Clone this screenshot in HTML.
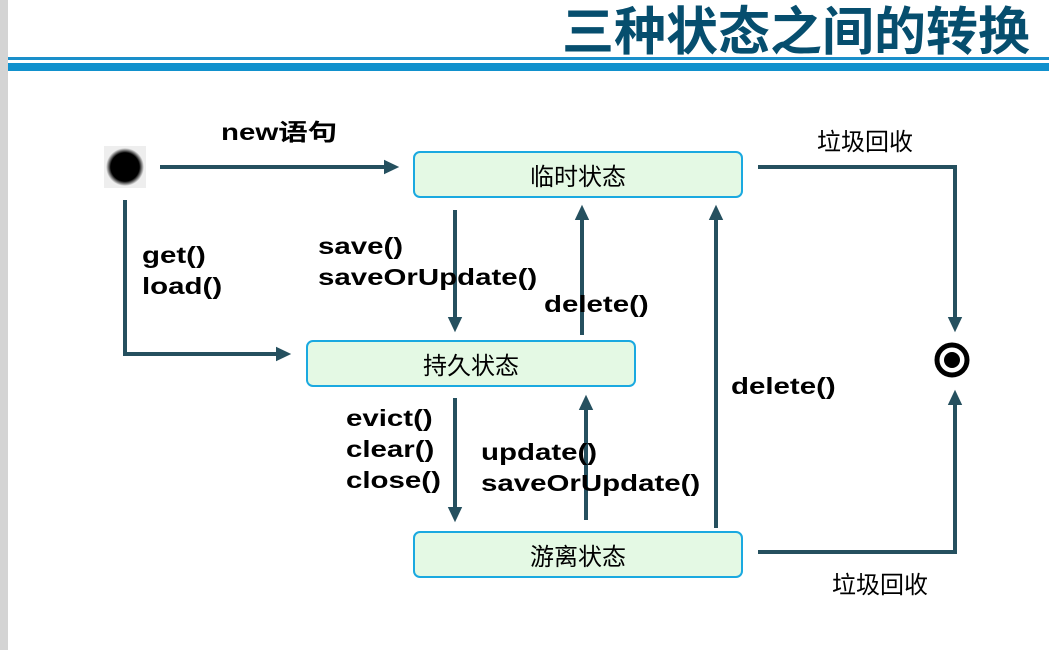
<!DOCTYPE html>
<html><head><meta charset="utf-8"><style>
body{margin:0;width:1049px;height:650px;background:#fff;position:relative;overflow:hidden;font-family:"Liberation Sans","Noto Sans CJK SC",sans-serif}
.t{position:absolute;font-weight:bold;font-size:23px;color:#000;line-height:31px;white-space:nowrap;transform:scaleX(1.28);transform-origin:0 0}
.c{position:absolute;font-size:24px;color:#000;line-height:31px;white-space:nowrap;font-family:"Noto Sans CJK SC",sans-serif}
.box{position:absolute;width:326px;height:43px;border:2px solid #1aa9e0;border-radius:7px;background:#e4f9e4;font-size:24px;text-align:center;line-height:43px;box-sizing:content-box;font-family:"Noto Sans CJK SC",sans-serif}
</style></head><body>
<div style="position:absolute;left:0;top:0;width:8px;height:650px;background:#d4d4d4"></div>
<div style="position:absolute;left:562px;top:-4px;font-size:52px;font-weight:bold;color:#064e6e;font-family:'Noto Sans CJK SC',sans-serif;line-height:64px;white-space:nowrap">三种状态之间的转换</div>
<div style="position:absolute;left:8px;top:57px;width:1041px;height:3px;background:#1a8fca"></div>
<div style="position:absolute;left:8px;top:63px;width:1041px;height:8px;background:#1191cd"></div>
<div class="box" style="left:413px;top:151px">临时状态</div>
<div class="box" style="left:306px;top:340px">持久状态</div>
<div class="box" style="left:413px;top:531px">游离状态</div>
<svg width="1049" height="650" style="position:absolute;left:0;top:0">
<defs><marker id="a" markerWidth="4" markerHeight="4" refX="2" refY="2" orient="auto" markerUnits="strokeWidth"><path d="M0,0.2L3.8,2L0,3.8Z" fill="#25505f"/></marker>
<radialGradient id="g"><stop offset="0.75" stop-color="#000"/><stop offset="1" stop-color="#000" stop-opacity="0"/></radialGradient></defs>
<g stroke="#25505f" stroke-width="4" fill="none" marker-end="url(#a)">
<path d="M160,167H392"/>
<path d="M125,200V354H284"/>
<path d="M455,210V325"/>
<path d="M582,335V212"/>
<path d="M758,167H955V325"/>
<path d="M758,552H955V397"/>
<path d="M716,528V212"/>
<path d="M455,398V515"/>
<path d="M586,520V402"/>
</g>
<rect x="104" y="146" width="42" height="42" fill="#eee"/>
<circle cx="125" cy="167" r="19" fill="url(#g)"/>
<circle cx="952" cy="360" r="15" fill="#fff" stroke="#000" stroke-width="5"/>
<circle cx="952" cy="360" r="8" fill="#000"/>
</svg>
<div class="t" style="left:221px;top:117px">new语句</div>
<div class="t" style="left:142px;top:240px">get()<br>load()</div>
<div class="t" style="left:318px;top:231px">save()<br>saveOrUpdate()</div>
<div class="t" style="left:544px;top:289px">delete()</div>
<div class="t" style="left:731px;top:371px">delete()</div>
<div class="t" style="left:346px;top:403px">evict()<br>clear()<br>close()</div>
<div class="t" style="left:481px;top:437px">update()<br>saveOrUpdate()</div>
<div class="c" style="left:817px;top:124px">垃圾回收</div>
<div class="c" style="left:832px;top:567px">垃圾回收</div>
</body></html>
